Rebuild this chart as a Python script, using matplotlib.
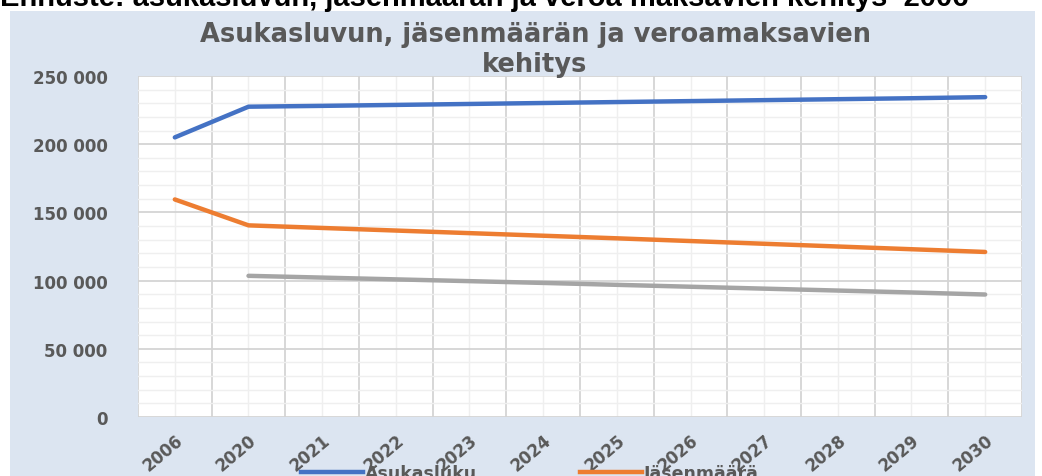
import numpy as np
import matplotlib.pyplot as plt
from matplotlib.patches import Rectangle
from matplotlib.lines import Line2D

years = ["2006", "2020", "2021", "2022", "2023", "2024", "2025",
         "2026", "2027", "2028", "2029", "2030"]
asukasluku = [205000, 227500, 228100, 228800, 229500, 230200, 230900,
              231600, 232300, 233000, 233700, 234500]
jasenmaara = [159500, 140500, 138600, 136700, 134800, 132900, 131000,
              129000, 127000, 125000, 123000, 121000]
veroa = [np.nan, 103500, 102200, 100900, 99600, 98300, 96900,
         95500, 94100, 92700, 91300, 89800]
yticks = [0, 50000, 100000, 150000, 200000, 250000]
ytick_labels = ["0", "50 000", "100 000", "150 000", "200 000", "250 000"]

W, H = 1042, 477
fig = plt.figure(figsize=(W / 100, H / 100), dpi=100)
fig.patch.set_facecolor("white")

# chart area background
fig.patches.append(Rectangle((10 / W, 0), 1025 / W, 1 - 12 / H,
                             transform=fig.transFigure, facecolor="#dce5f1",
                             edgecolor="none", zorder=-5))

# clipped heading above the chart
fig.text(0 / W, 1 + 2 / H, "Ennuste: asukasluvun, jäsenmäärän ja veroa maksavien kehitys  2006-",
         fontsize=21, fontweight="bold", color="black", ha="left", va="center",
         family="Liberation Sans")

ax = fig.add_axes([138 / W, 1 - 418 / H, (1022 - 138) / W, (418 - 77) / H])
ax.set_facecolor("white")

x = np.arange(len(years))
ax.plot(x, asukasluku, color="#4472C4", lw=3.2, solid_capstyle="round", zorder=3)
ax.plot(x, jasenmaara, color="#ED7D31", lw=3.2, solid_capstyle="round", zorder=3)
ax.plot(x, veroa, color="#A5A5A5", lw=3.2, solid_capstyle="round", zorder=3)

ax.set_xlim(-0.5, len(years) - 0.5)
ax.set_ylim(0, 250000)

# grid: major at category boundaries / 50k, minor at centers / 10k
ax.set_xticks(np.arange(-0.5, len(years)), minor=False)
ax.set_xticklabels([])
ax.set_xticks(x, minor=True)
ax.set_xticklabels(years, minor=True, rotation=40, ha="right", va="top",
                   rotation_mode="anchor", fontsize=12, fontweight="bold",
                   color="#595959")
ax.set_yticks(yticks)
ax.set_yticklabels(ytick_labels, fontsize=12, fontweight="bold", color="#595959")
ax.set_yticks(np.arange(0, 250001, 10000), minor=True)
ax.grid(which="major", color="#d4d4d4", lw=1.3)
ax.grid(which="minor", color="#efefef", lw=1.0)
ax.tick_params(which="both", length=0)
ax.tick_params(axis="y", pad=22)
ax.tick_params(axis="x", which="minor", pad=10)
for s in ax.spines.values():
    s.set_visible(False)
ax.set_axisbelow(True)

# chart title
fig.text(535 / W, 1 - 35 / H, "Asukasluvun, jäsenmäärän ja veroamaksavien",
         fontsize=18.5, color="#595959", ha="center", va="center",
         family="DejaVu Sans", fontweight="bold")
fig.text(535 / W, 1 - 65 / H, "kehitys",
         fontsize=18.5, color="#595959", ha="center", va="center",
         family="DejaVu Sans", fontweight="bold")

# legend (cut by lower edge); column-major fill -> first row Asukasluku, Jäsenmäärä
handles = [Line2D([], [], color="#4472C4", lw=3.2),
           Line2D([], [], color="#A5A5A5", lw=3.2),
           Line2D([], [], color="#ED7D31", lw=3.2)]
labels = ["Asukasluku", "Veroa maksavat", "Jäsenmäärä"]
leg = fig.legend(handles, labels, ncol=2, loc="upper left",
                 bbox_to_anchor=(285 / W, 1 - 449 / H), frameon=False,
                 handlelength=3.6, handletextpad=0.1, columnspacing=3.3,
                 prop={"size": 12.5, "weight": "bold"})
for t in leg.get_texts():
    t.set_color("#595959")

fig.savefig("out.png", dpi=100)
